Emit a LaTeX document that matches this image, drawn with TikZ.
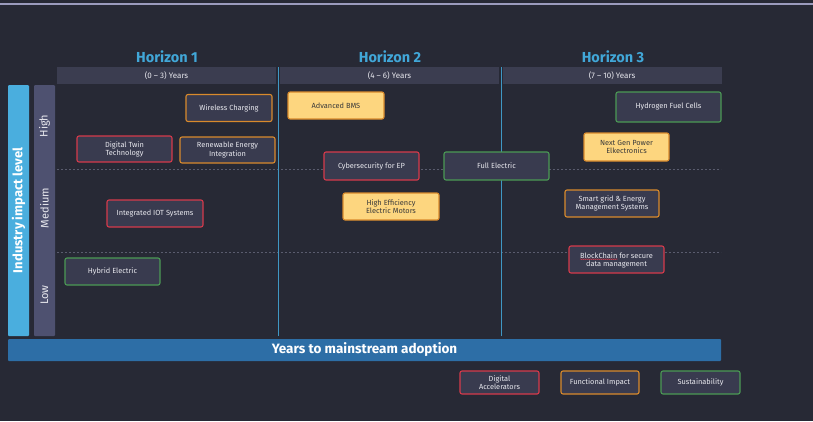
\documentclass[tikz,border=0pt]{standalone}
\usepackage{fontspec}
\setmainfont{Fira Sans}
\usetikzlibrary{decorations.pathmorphing}
\definecolor{bgc}{HTML}{272935}
\definecolor{hdrc}{HTML}{3B3D50}
\definecolor{boxc}{HTML}{393B4F}
\definecolor{redc}{HTML}{D63A4B}
\definecolor{orgc}{HTML}{D98A2C}
\definecolor{grnc}{HTML}{4B9A55}
\definecolor{yelc}{HTML}{FDD67F}
\definecolor{titc}{HTML}{41A7D8}
\definecolor{leftc}{HTML}{4AAEDE}
\definecolor{levc}{HTML}{4E5170}
\definecolor{botc}{HTML}{2D6EA6}
\definecolor{vlinec}{HTML}{3F97C4}
\definecolor{topc}{HTML}{9B9BBD}
\definecolor{txtc}{HTML}{E8E8EE}
\definecolor{dtxt}{HTML}{3A3A3A}
\definecolor{gridc}{HTML}{5A5C6E}
\tikzset{
  card/.style={rectangle, rounded corners=2pt, line width=1.1pt, fill=boxc,
    text=txtc, align=center, font=\fontsize{7.4}{8.2}\selectfont, inner sep=1pt},
  ycard/.style={card, fill=yelc, text=dtxt},
  ctext/.style={text=txtc, font=\fontsize{7.4}{8.2}\selectfont, inner sep=0pt},
  hdrbar/.style={rectangle, fill=hdrc, text=txtc, minimum width=219pt, minimum height=17pt,
    inner sep=0pt, font=\fontsize{8}{9}\selectfont},
  htitle/.style={text=titc, font=\fontsize{14.5}{16}\selectfont\bfseries},
  lvl/.style={rotate=90, text=txtc, font=\fontsize{11}{12}\selectfont},
  grid/.style={gridc, line width=0.6pt, dash pattern=on 2pt off 2pt},
  vline/.style={vlinec, line width=0.8pt}
}
\begin{document}
\begin{tikzpicture}[x=1pt,y=-1pt]
\fill[bgc] (0,0) rectangle (813,421);
\useasboundingbox (0,0) rectangle (813,421);
\draw[topc, line width=1.3pt] (0,4) -- (813,4);
% horizon titles
\node[htitle] (h1) at (167,57) {Horizon 1};
\node[htitle] (h2) at (390,57) {Horizon 2};
\node[htitle] (h3) at (613,57) {Horizon 3};
% year headers
\node[hdrbar] (y1) at (166.5,75.5) {(0 – 3) Years};
\node[hdrbar] (y2) at (389.5,75.5) {(4 – 6) Years};
\node[hdrbar] (y3) at (612,75.5) {(7 – 10) Years};
% grid lines
\draw[grid] (57,169) -- (721,169);
\draw[grid] (57,252) -- (721,252);
\draw[vline] (278,67) -- (278,336);
\draw[vline] (501,67) -- (501,336);
% left bars
\node[rectangle, rounded corners=1pt, fill=leftc, minimum width=21pt, minimum height=251pt, inner sep=0pt] (lb) at (18.5,210.5) {};
\node[rotate=90, text=white, font=\fontsize{13}{14}\selectfont\bfseries] (lbt) at (lb.center) {Industry impact level};
\node[rectangle, rounded corners=1pt, fill=levc, minimum width=21pt, minimum height=251pt, inner sep=0pt] (lv) at (44.5,210.5) {};
\node[lvl] (lhigh) at (44.5,126) {High};
\node[lvl] (lmed) at (44.5,208) {Medium};
\node[lvl] (llow) at (44.5,295) {Low};
% bottom bar
\node[rectangle, rounded corners=1pt, fill=botc, minimum width=713pt, minimum height=22pt, inner sep=0pt] (bb) at (364.5,350) {};
\node[text=white, font=\fontsize{13.5}{15}\selectfont\bfseries] (bbt) at (bb.center) {Years to mainstream adoption};
% cards
\node[card, draw=orgc, minimum width=86pt, minimum height=27pt] (wc) at (229,108) {Wireless Charging};
\node[card, draw=redc, minimum width=95pt, minimum height=26pt] (dt) at (124.5,149) {Digital Twin\\Technology};
\node[card, draw=orgc, minimum width=95pt, minimum height=26pt] (re) at (227.5,150) {Renewable Energy\\Integration};
\node[card, draw=redc, minimum width=96pt, minimum height=27pt] (iot) at (155,213.5) {Integrated IOT Systems};
\node[card, draw=grnc, minimum width=95pt, minimum height=27pt] (hy) at (112.5,271.5) {Hybrid Electric};
\node[ycard, draw=orgc, minimum width=96pt, minimum height=27pt] (bms) at (336,105.5) {Advanced BMS};
\node[card, draw=redc, minimum width=95pt, minimum height=28pt] (cy) at (371.5,166) {Cybersecurity for EP};
\node[card, draw=grnc, minimum width=105pt, minimum height=28pt] (fe) at (496.5,166) {Full Electric};
\node[ycard, draw=orgc, minimum width=96pt, minimum height=27pt] (he) at (391,206.5) {High Efficiency\\Electric Motors};
\node[card, draw=grnc, minimum width=105pt, minimum height=30pt] (hf) at (668.5,107) {Hydrogen Fuel Cells};
\node[ycard, draw=orgc, minimum width=85pt, minimum height=28pt] (ng) at (626.5,147) {Next Gen Power\\Elkectronics};
\node[card, draw=orgc, minimum width=94pt, minimum height=27pt] (sg) at (612,203.5) {Smart grid \& Energy\\Management Systems};
\node[card, draw=redc, minimum width=95pt, minimum height=27pt] (bc) at (616.5,259.5) {};
\node[ctext, anchor=base] (bc1) at ([yshift=1.3pt]bc.center) {BlockChain for secure};
\node[ctext, anchor=base] (bc2) at ([yshift=-6.9pt]bc.center) {data management};
\node[ctext, anchor=base west] (bcw) at (bc1.base west) {\phantom{BlockChain}};
\draw[redc, line width=0.4pt, decorate, decoration={snake, amplitude=0.5pt, segment length=2pt}]
  ([yshift=-1pt]bcw.base west) -- ([yshift=-1pt]bcw.base east);
% legend
\node[card, draw=redc, minimum width=79pt, minimum height=23pt] (lg1) at (499.5,382.5) {Digital\\Accelerators};
\node[card, draw=orgc, minimum width=78pt, minimum height=23pt] (lg2) at (600,382.5) {Functional Impact};
\node[card, draw=grnc, minimum width=79pt, minimum height=23pt] (lg3) at (700.5,382.5) {Sustainability};
\end{tikzpicture}
\end{document}
